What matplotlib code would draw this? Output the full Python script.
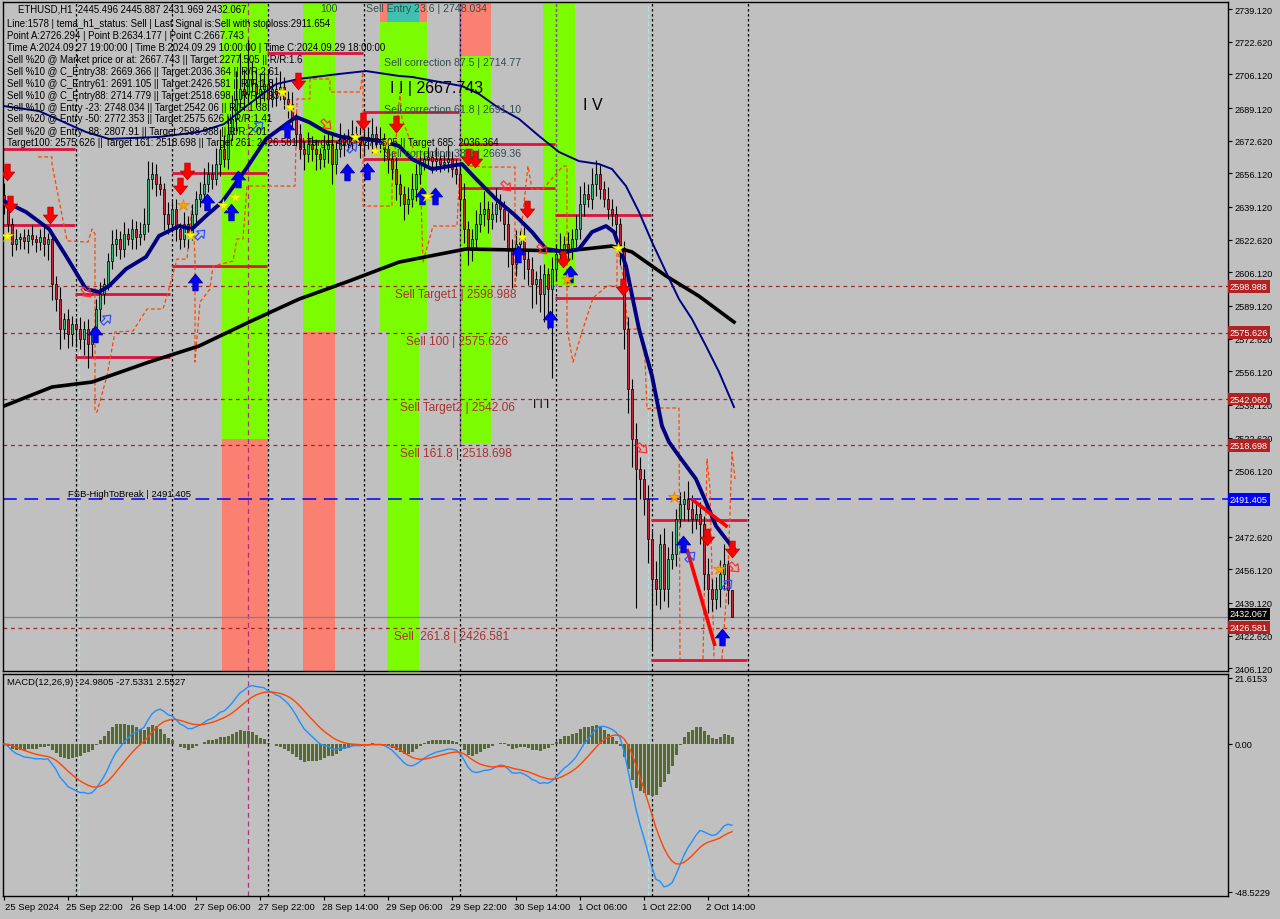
import numpy as np
import matplotlib
matplotlib.use("Agg")
import matplotlib.pyplot as plt
import matplotlib.transforms as mtransforms
from matplotlib.path import Path
from matplotlib.patches import Rectangle

plt.rcParams['font.family'] = ['Liberation Sans', 'DejaVu Sans']

# ---------------- data ----------------
first_open = 2645.0
closes = [
    2640.5, 2630.4, 2620.3, 2622.8, 2623.8, 2621.8, 2624.8, 2622.8, 2621.3, 2623.8, 2620.3, 2622.8,
    2600.1, 2592.6, 2577.4, 2582.5, 2575.0, 2580.0, 2577.4, 2572.4, 2577.4, 2569.9, 2575.0,
    2587.5, 2595.1, 2600.1, 2611.8, 2620.3, 2622.8, 2617.8, 2625.4, 2622.8, 2627.9, 2623.8, 2625.4, 2630.4,
    2653.2, 2655.7, 2650.7, 2648.2, 2635.5, 2630.4, 2638.0,
    2628.0, 2622.8, 2630.4, 2625.4, 2635.5, 2643.1, 2645.6, 2650.7,
    2655.7, 2653.2, 2660.8, 2668.4, 2663.3, 2676.0, 2683.5, 2693.6, 2698.7, 2696.2, 2703.7, 2701.2, 2696.2, 2698.7, 2701.2,
    2693.6, 2698.7, 2696.2, 2699.7, 2693.6, 2691.1, 2683.5, 2675.9, 2668.4, 2665.9, 2670.9,
    2668.4, 2665.9, 2663.3, 2668.4, 2670.9, 2660.8, 2668.4, 2673.4, 2670.9, 2673.4, 2676.0, 2673.4, 2670.9, 2674.4,
    2672.4, 2676.0, 2670.9, 2673.4, 2668.4, 2663.3, 2658.3, 2650.7,
    2645.6, 2640.5, 2643.1, 2648.2, 2655.7, 2660.8, 2663.3, 2664.3, 2662.3, 2663.3, 2660.8, 2661.8, 2663.3, 2658.3,
    2655.7, 2643.1, 2628.0, 2617.8, 2622.8, 2630.4, 2635.5, 2638.0, 2633.0, 2635.5, 2640.5, 2638.0, 2630.4, 2617.8,
    2610.3, 2620.3, 2622.8, 2612.8,
    2607.7, 2600.1, 2602.6, 2595.1, 2605.2, 2597.6, 2607.7, 2615.3, 2617.8, 2620.3, 2617.8, 2622.8, 2628.0, 2640.5,
    2645.6, 2643.1, 2650.7, 2655.7, 2648.2, 2643.1, 2638.0, 2635.5, 2630.4,
    2617.8, 2577.4, 2547.1, 2521.8, 2506.7, 2501.6, 2491.5, 2471.3, 2451.1, 2446.0, 2468.8, 2446.0, 2461.2, 2463.7,
    2481.4, 2489.0, 2491.5, 2486.5, 2481.4, 2484.0, 2478.9, 2453.6, 2446.0, 2441.0, 2446.0, 2453.6, 2458.7, 2445.5,
    2432.07,
]
wick_up = [
    6, 4, 3, 5, 2, 4, 3, 5, 2, 4, 6, 3,
    2, 4, 6, 3, 5, 4, 3, 6, 4, 5, 3,
    5, 6, 3, 4, 7, 5, 4, 6, 3, 5, 4, 6, 8,
    9, 6, 5, 4, 3, 6, 4,
    5, 3, 6, 4, 5, 4, 6, 8,
    6, 5, 8, 10, 7, 9, 12, 14, 18, 10, 20, 9, 7, 8, 6,
    7, 5, 6, 8, 5, 4, 6, 3, 5, 4, 6,
    4, 5, 3, 7, 5, 6, 4, 8, 3, 5, 7, 4, 6, 3, 5, 8, 4, 6, 3, 5, 4, 6,
    5, 4, 6, 8, 5, 7, 4, 5, 3, 6, 4, 5, 7, 4,
    5, 6, 8, 4, 5, 7, 6, 9, 4, 6, 8, 5, 4, 6, 5, 7, 4, 6,
    5, 6, 4, 7, 5, 3, 6, 5, 8, 4, 6, 5, 7, 9, 6, 5, 8, 7, 5, 4, 6, 5, 4,
    3, 4, 6, 5, 8, 6, 5, 7, 4, 9, 5, 8, 6, 12, 5, 6, 4, 9, 7, 5, 6, 4, 8, 5, 6, 7, 10, 2, 0.4,
]
wick_dn = [
    5, 4, 6, 3, 5, 4, 6, 3, 5, 4, 6, 8,
    8, 6, 10, 5, 7, 6, 9, 5, 8, 12, 6,
    4, 6, 5, 3, 4, 6, 5, 4, 3, 5, 6, 4, 3,
    4, 5, 6, 3, 8, 5, 4,
    6, 5, 4, 7, 3, 5, 4, 3,
    4, 5, 3, 6, 4, 5, 3, 6, 4, 8, 5, 4, 7, 5, 6,
    5, 4, 6, 3, 5, 7, 4, 6, 5, 8, 4,
    6, 8, 5, 4, 7, 10, 5, 4, 6, 3, 5, 4, 7, 5, 4, 6, 5, 4, 6, 7, 5, 8,
    6, 8, 5, 4, 6, 5, 3, 4, 6, 5, 4, 3, 5, 4,
    5, 6, 7, 8, 6, 5, 4, 6, 7, 5, 4, 6, 8, 9, 12, 6, 7, 10,
    8, 12, 10, 9, 14, 20, 45, 6, 5, 7, 6, 5, 4, 5, 6, 4, 5, 6, 5, 4, 5, 6, 7,
    8, 10, 12, 14, 70, 10, 8, 12, 35, 8, 10, 6, 9, 5, 6, 4, 8, 6, 7, 5, 10, 8, 12, 6, 5, 9, 8, 7, 0.1,
]

time_labels = ["25 Sep 2024", "25 Sep 22:00", "26 Sep 14:00", "27 Sep 06:00", "27 Sep 22:00",
               "28 Sep 14:00", "29 Sep 06:00", "29 Sep 22:00", "30 Sep 14:00", "1 Oct 06:00",
               "1 Oct 22:00", "2 Oct 14:00"]
time_label_bars = [0, 16, 32, 48, 64, 80, 96, 112, 128, 144, 160, 176]
day_sep_bars = [18, 42, 66, 90, 114, 138, 162, 186]

price_ticks = [2739.12, 2722.62, 2706.12, 2689.12, 2672.62, 2656.12, 2639.12, 2622.62, 2606.12,
               2589.12, 2572.62, 2556.12, 2539.12, 2522.62, 2506.12, 2489.12, 2472.62, 2456.12,
               2439.12, 2422.62, 2406.12]
hidden_ticks = [2489.12]  # fully covered by the 2491.405 price box
macd_ticks = [21.6153, 0.0, -48.5229]
macd_tick_labels = ["21.6153", "0.00", "-48.5229"]

# moving averages (bar index, price)
fast_ma_bars = [0, 5.5, 11.25, 15.5, 20.5, 23.75, 26.25, 30.5, 35.5, 38.75, 43.75, 47, 50.5, 54.5, 60.5, 65.5,
                73, 76.25, 80.5, 84.5, 90.5, 95.5, 98.75, 102, 107, 114.5, 118, 123, 128, 132, 135.5, 140.5,
                143.75, 147, 150.5, 152.5, 155.5, 158.75, 162, 164.5, 166.25, 168.75, 173, 175.5, 178,
                180.5, 182.5]
fast_ma_vals = [2642.1, 2636.6, 2628.0, 2614.4, 2597.7, 2596.2, 2599.2, 2607.8, 2613.9, 2624.5, 2629.5,
                2628.0, 2634.6, 2641.6, 2658.3, 2673.5, 2684.6, 2682.0, 2677.0, 2674.5, 2673.5, 2671.9,
                2669.9, 2663.3, 2658.3, 2660.8, 2653.3, 2643.1, 2634.5, 2626.5, 2617.9, 2616.4, 2617.9,
                2626.5, 2629.5, 2626.5, 2609.3, 2577.5, 2553.8, 2528.5, 2520.4, 2513.3, 2501.7, 2490.1,
                2478.0, 2471.4, 2466.4]
slow_ma_bars = [0, 8.75, 20.5, 26.25, 38.75, 48.75, 55, 61.25, 68, 73.75, 83.75, 90.5, 98.75, 102, 114.5,
                118.75, 123, 128.75, 133.75, 138.75, 143.75, 148.75, 152, 155.5, 158.75, 162, 165.5,
                168.75, 172, 175.5, 178.75, 182.5]
slow_ma_vals = [2690.1, 2687.6, 2677.0, 2673.5, 2674.5, 2677.0, 2681.0, 2691.1, 2701.2, 2703.8, 2706.3,
                2707.8, 2705.3, 2704.8, 2700.2, 2696.2, 2690.1, 2683.6, 2675.0, 2666.9, 2662.3, 2660.8,
                2658.3, 2649.7, 2636.6, 2621.4, 2606.3, 2592.6, 2582.5, 2568.9, 2555.8, 2538.1]
long_ma_bars = [0, 12, 22, 36.25, 48.75, 61.25, 73.75, 86.25, 98.75, 115.5, 140.5, 152, 157, 165.5,
                173.75, 182.5]
long_ma_vals = [2538.6, 2548.2, 2550.7, 2560.8, 2568.9, 2581.0, 2592.6, 2601.7, 2611.3, 2617.9, 2616.9,
                2619.4, 2616.4, 2604.3, 2594.1, 2581.0]

# signal-line dashed path (bar, price); None separates pieces
stop_path_bars = [-0.25, -0.25, None,
                  8.5, 12, 12, 15.75, 21, 22, 22.75, 22.75, 23.25, 25.75, 27.75, 32.25, 35.75, 39.75,
                  40.75, 43.25, 45.75, 47, 47.75, 47.75, 49, 51.5, 52.25, 57.25, 58.25, 59.75, 60.75,
                  72.75, 73.25, 76.5, 76.5, 81.5, 81.5, 89, 89.75, 89.75, 97, 97, 99, 99.5, 104,
                  104.75, 107.25, 113.25, 114, 118.25, 119.5, 127.75, 127.75, 131, 132, 134.75, 139.75,
                  140.75, 140.75, 142.25, 144.5, 147.25, 150.75, 153.25, 153.25, 154.75, 156, 159, 160.25,
                  160.75, 162, 168.75, 169, None,
                  174.75, 175.75, 176.5, 177.5, None,
                  179.5, 181, 182, 182.75]
stop_path_vals = [2668.4, 2605.3, None,
                  2664.4, 2664.4, 2660.8, 2622.0, 2621.4, 2628.0, 2625.5, 2535.6, 2535.6, 2553.8, 2576.0,
                  2576.5, 2587.6, 2587.6, 2594.2, 2612.8, 2612.8, 2639.6, 2614.4, 2560.8, 2591.1, 2597.7,
                  2609.3, 2611.8, 2623.0, 2623.0, 2649.7, 2649.7, 2693.7, 2693.7, 2703.8, 2703.8, 2697.2,
                  2697.2, 2707.3, 2639.6, 2639.6, 2649.7, 2697.2, 2683.6, 2659.8, 2611.3, 2629.5, 2629.5,
                  2659.8, 2659.8, 2659.3, 2659.3, 2599.2, 2659.8, 2648.2, 2648.2, 2659.8, 2659.8, 2577.5,
                  2560.8, 2576.0, 2593.2, 2599.2, 2599.2, 2619.4, 2604.3, 2577.5, 2577.5, 2562.4, 2537.1,
                  2537.6, 2537.6, 2410.8, None,
                  2410.8, 2511.8, 2496.7, 2410.8, None,
                  2410.8, 2454.8, 2515.4, 2501.7]

# background zones: (bar start, bar end, price low, price high, colour key)
zones = [
    (54.5, 66.0, 2521.9, 2760.0, "green"),
    (54.5, 66.0, 2390.0, 2521.9, "salmon"),
    (74.75, 82.75, 2576.0, 2760.0, "green"),
    (74.75, 82.75, 2390.0, 2576.0, "salmon"),
    (94.0, 95.75, 2576.0, 2732.6, "green"),
    (95.75, 103.75, 2390.0, 2732.6, "green"),
    (103.75, 105.75, 2576.0, 2732.6, "green"),
    (94.0, 95.75, 2732.6, 2760.0, "salmon"),
    (95.75, 103.75, 2732.6, 2760.0, "teal"),
    (103.75, 105.75, 2732.6, 2760.0, "salmon"),
    (113.75, 121.75, 2715.4, 2760.0, "salmon"),
    (113.75, 121.75, 2519.4, 2715.4, "green"),
    (134.75, 142.75, 2599.2, 2760.0, "green"),
]
# daily high/low segments (bar start, bar end, price)
day_segments = [
    (-0.25, 17.75, 2668.4), (-0.25, 17.75, 2630.0),
    (17.75, 41.5, 2595.2), (17.75, 41.5, 2563.4),
    (42.0, 65.75, 2656.3), (42.0, 65.75, 2609.3),
    (65.75, 89.75, 2716.9), (65.75, 89.75, 2672.4),
    (89.75, 113.75, 2687.1), (89.75, 113.75, 2663.4),
    (113.75, 137.75, 2670.9), (113.75, 137.75, 2648.7),
    (137.75, 161.75, 2635.1), (137.75, 161.75, 2593.2),
    (161.75, 185.75, 2481.0), (161.75, 185.75, 2410.3),
]
trend_lines = [((171.9, 180.9), (2491.6, 2477.5)), ((170.75, 177.75), (2466.4, 2417.4))]

level_prices = [2598.988, 2575.626, 2542.06, 2518.698, 2426.581]
level_texts = ["Sell Target1 | 2598.988", "Sell 100 | 2575.626", "Sell Target2 | 2542.06",
               "Sell 161.8 | 2518.698", "Sell  261.8 | 2426.581"]
level_text_bars = [97.75, 100.5, 99, 99, 97.5]
fsb_price = 2491.405
last_price = 2432.067

sell_arrow_bars = [0.75, 1.5, 11.5, 44, 45.75, 73.5, 89.75, 98, 116, 117.75, 130.75, 139.75, 154.75, 175.75, 182]
sell_arrow_vals = [2656.8, 2640.6, 2635.1, 2649.7, 2657.3, 2702.8, 2682.6, 2681.0, 2664.4, 2663.4, 2638.1,
                   2612.8, 2598.7, 2472.4, 2466.4]
buy_arrow_bars = [22.75, 47.75, 50.75, 56.75, 58.5, 70.75, 85.75, 90.75, 104.5, 107.75, 128.5, 136.5, 141.5,
                  169.75, 179.5]
buy_arrow_vals = [2575.0, 2601.2, 2641.6, 2636.6, 2653.3, 2678.5, 2656.8, 2657.3, 2644.7, 2644.7, 2615.4,
                  2582.5, 2605.3, 2468.9, 2422.0]
ystar_bars = [0.75, 46.5, 54.75, 57.75, 69.5, 71.5, 87.75, 92.75, 95.75, 105.75, 129.5, 153.5]
ystar_vals = [2624.5, 2625.0, 2640.1, 2644.2, 2697.2, 2689.6, 2674.5, 2667.4, 2671.9, 2644.7, 2623.9, 2618.4]
ostar_bars = [44.75, 140.75, 167.5, 178.75]
ostar_vals = [2640.1, 2602.8, 2492.6, 2456.3]
hollow_up_bars = [25.5, 49, 63.5, 87, 171.5, 180.75]
hollow_up_vals = [2582.5, 2625.5, 2680.0, 2669.4, 2462.9, 2448.7]
hollow_dn_bars = [20.5, 80.5, 125.5, 134.5, 159.5, 182.5]
hollow_dn_vals = [2596.2, 2681.0, 2649.7, 2617.9, 2517.4, 2457.3]

header_lines = [
    "ETHUSD,H1  2445.496 2445.887 2431.969 2432.067",
    "Line:1578 | tema_h1_status: Sell | Last Signal is:Sell with stoploss:2911.654",
    "Point A:2726.294 | Point B:2634.177 | Point C:2667.743",
    "Time A:2024.09.27 19:00:00 | Time B:2024.09.29 10:00:00 | Time C:2024.09.29 18:00:00",
    "Sell %20 @ Market price or at: 2667.743 || Target:2277.505 || R/R:1.6",
    "Sell %10 @ C_Entry38: 2669.366 || Target:2036.364 || R/R:2.61",
    "Sell %10 @ C_Entry61: 2691.105 || Target:2426.581 || R/R:1.8",
    "Sell %10 @ C_Entry88: 2714.779 || Target:2518.698 || R/R:1.93",
    "Sell %10 @ Entry -23: 2748.034 || Target:2542.06 || R/R:1.38",
    "Sell %20 @ Entry -50: 2772.353 || Target:2575.626 || R/R:1.41",
    "Sell %20 @ Entry -88: 2807.91 || Target:2598.988 || R/R:2.01",
    "Target100: 2575.626 || Target 161: 2518.698 || Target 261: 2426.581 || Target 423: 2277.505 || Target 685: 2036.364",
]
macd_label = "MACD(12,26,9) -24.9805 -27.5331 2.5527"

# ---------------- drawing ----------------
W, H = 1280, 920
BG = "#c0c0c0"
COL = {"green": "#7cfc00", "salmon": "#fa8072", "teal": "#40c0b0"}

fig = plt.figure(figsize=(W / 100, H / 100), dpi=100, facecolor=BG)
ax = fig.add_axes([3 / W, 1 - 672 / H, 1225 / W, 669 / H], facecolor=BG)
ax2 = fig.add_axes([3 / W, 1 - 897 / H, 1225 / W, 222 / H], facecolor=BG)

XMIN, XMAX = -0.25, 306.0
ax.set_xlim(XMIN, XMAX)
ax.set_ylim(2404.76, 2742.66)
ax2.set_xlim(XMIN, XMAX)
ax2.set_ylim(-49.9, 22.9)

for a in (ax, ax2):
    for s in a.spines.values():
        s.set_color("black")
        s.set_linewidth(1.0)

# zones
for x0, x1, p0, p1, key in zones:
    ax.add_patch(Rectangle((x0, p0), x1 - x0, p1 - p0, facecolor=COL[key], edgecolor="none", zorder=0.5))

# day separators
for b in day_sep_bars:
    for a in (ax, ax2):
        a.axvline(b, color="black", lw=0.9, ls=(0, (2, 2)), zorder=0.8)
ax.plot([114, 114], [2519.4, 2760], color="#a050c0", lw=0.9, ls=(0, (2, 2)), zorder=0.9)
ax.plot([138, 138], [2599.2, 2760], color="#a050c0", lw=0.9, ls=(0, (2, 2)), zorder=0.9)
for a in (ax, ax2):
    a.axvline(61, color="#b03080", lw=0.9, ls=(0, (4, 3)), zorder=0.9)
    a.axvline(18.75, color="#b0e0e6", lw=0.9, ls=(0, (4, 2)), zorder=0.8)
    a.axvline(161, color="#b0e0e6", lw=0.9, ls=(0, (4, 2)), zorder=0.8)

# horizontal levels
for p in level_prices:
    ax.axhline(p, color="#9a2a2a", lw=0.9, ls=(0, (3, 3)), zorder=1)
ax.axhline(fsb_price, color="#0000ff", lw=1.1, ls=(0, (9, 5)), zorder=1)
ax.axhline(last_price, color="#7a8494", lw=0.9, zorder=1)

# daily segments
for x0, x1, p in day_segments:
    ax.plot([x0, x1], [p, p], color="#dc143c", lw=2.0, zorder=2, solid_capstyle="butt")

# stop path
sx = [np.nan if v is None else v for v in stop_path_bars]
sy = [np.nan if v is None else v for v in stop_path_vals]
ax.plot(sx, sy, color="#ff4500", lw=0.9, ls=(0, (3, 2)), zorder=2)

# candles
c = np.array(closes, dtype=float)
o = np.concatenate([[first_open], c[:-1]])
hi = np.maximum(o, c) + np.array(wick_up, dtype=float)
lo = np.minimum(o, c) - np.array(wick_dn, dtype=float)
xs = np.arange(len(c))
ax.vlines(xs, lo, hi, color="black", lw=0.8, zorder=3)
body_bottom = np.minimum(o, c)
body_h = np.maximum(np.abs(c - o), 0.4)
colors = np.where(c >= o, "#3cb371", "#c0283a")
ax.bar(xs, body_h, bottom=body_bottom, width=0.72, color=colors, edgecolor="black", linewidth=0.5, zorder=3.2)

# moving averages
ax.plot(long_ma_bars, long_ma_vals, color="black", lw=2.6, zorder=4)
ax.plot(slow_ma_bars, slow_ma_vals, color="#000080", lw=1.4, zorder=4)
ax.plot(fast_ma_bars, fast_ma_vals, color="#000080", lw=2.8, zorder=4.1)

# trend lines
for (bx, py) in trend_lines:
    ax.plot(bx, py, color="#ff0000", lw=2.6, zorder=4.2, solid_capstyle="butt")

# markers
arr_dn = Path([(-0.32, 1.0), (0.32, 1.0), (0.32, 0.05), (0.85, 0.05), (0.0, -1.0), (-0.85, 0.05),
               (-0.32, 0.05), (-0.32, 1.0)], closed=True)
arr_up = Path([(x, -y) for x, y in arr_dn.vertices], closed=True)
rot_dn = mtransforms.Affine2D().rotate_deg(45).transform_path(arr_dn)
rot_up = mtransforms.Affine2D().rotate_deg(-45).transform_path(arr_up)
ax.plot(sell_arrow_bars, sell_arrow_vals, ls="none", marker=arr_dn, ms=12, mfc="#ff0000", mec="#c00000",
        mew=0.6, zorder=5)
ax.plot(buy_arrow_bars, buy_arrow_vals, ls="none", marker=arr_up, ms=12, mfc="#0000ff", mec="#0000a0",
        mew=0.6, zorder=5)
ax.plot(ystar_bars, ystar_vals, ls="none", marker="*", ms=9, mfc="#ffff00", mec="#d0d000", mew=0.5, zorder=5)
ax.plot(ostar_bars, ostar_vals, ls="none", marker="*", ms=9, mfc="#ffa500", mec="#e08000", mew=0.5, zorder=5)
ax.plot(hollow_up_bars, hollow_up_vals, ls="none", marker=rot_up, ms=8, mfc="none", mec="#3050ff", mew=0.9,
        zorder=5)
ax.plot(hollow_dn_bars, hollow_dn_vals, ls="none", marker=rot_dn, ms=8, mfc="none", mec="#ff3030", mew=0.9,
        zorder=5)

# texts in chart
LVL_COL = "#a83232"
for b, p, t in zip(level_text_bars, level_prices, level_texts):
    ax.text(b, p - 1.0, t, color=LVL_COL, fontsize=8.6, ha="left", va="top", zorder=6, clip_on=True)
ax.text(16, fsb_price + 3.0, "FSB-HighToBreak | 2491.405", color="black", fontsize=6.8, ha="left",
        va="center", zorder=6)
COR = "#2f4f4f"
ax.text(95, 2712.4, "Sell correction 87.5 | 2714.77", color=COR, fontsize=7.6, va="center", zorder=6)
ax.text(95, 2688.6, "Sell correction 61.8 | 2691.10", color=COR, fontsize=7.6, va="center", zorder=6)
ax.text(95, 2666.4, "Sell correction 38.2 | 2669.36", color=COR, fontsize=7.6, va="center", zorder=6)
ax.text(96.5, 2699.7, "I I | 2667.743", color="black", fontsize=11.5, va="center", zorder=6)
ax.text(144.75, 2691.1, "I V", color="black", fontsize=11.5, va="center", zorder=6)
ax.text(132.25, 2539.6, "I I I", color="black", fontsize=8.5, va="center", zorder=6)
ax.text(79, 2742.0, "100", color=COR, fontsize=7.6, va="top", zorder=6, clip_on=True)
ax.text(90.5, 2742.0, "Sell Entry 23.6 | 2748.034", color=COR, fontsize=7.6, va="top", zorder=6,
        clip_on=True)

# header
for k, line in enumerate(header_lines):
    ypx = [10, 24, 36, 48, 60, 72, 84, 96, 108, 119, 132, 143][k]
    xpx = 18 if k == 0 else 7
    fig.text(xpx / W, 1 - ypx / H, line, fontsize=6.9, color="black", ha="left", va="center", zorder=10)

# right price axis
ax.yaxis.tick_right()
ax.set_yticks(price_ticks)
ax.set_yticklabels(["" if v in hidden_ticks else f"{v:.3f}" for v in price_ticks])
ax.tick_params(axis="y", direction="out", length=3, width=0.8, pad=2, labelsize=6.6, colors="black")
ax.set_xticks([])
blend = mtransforms.blended_transform_factory(ax.transAxes, ax.transData)
for p in level_prices:
    ax.text(1.0016, p, f"{p:.3f}", transform=blend, fontsize=6.6, color="white", ha="left", va="center",
            clip_on=False, zorder=8,
            bbox=dict(boxstyle="square,pad=0.2", facecolor="#b22222", edgecolor="none"))
ax.text(1.0016, fsb_price, f"{fsb_price:.3f}", transform=blend, fontsize=6.6, color="white", ha="left",
        va="center", clip_on=False, zorder=8,
        bbox=dict(boxstyle="square,pad=0.2", facecolor="#0000ff", edgecolor="none"))
ax.text(1.0016, last_price + 1.5, f"{last_price:.3f}", transform=blend, fontsize=6.6, color="white",
        ha="left", va="center", clip_on=False, zorder=8.5,
        bbox=dict(boxstyle="square,pad=0.2", facecolor="black", edgecolor="none"))

# MACD panel
def ema(x, n):
    a = 2.0 / (n + 1)
    out = np.empty_like(x)
    out[0] = x[0]
    for k in range(1, len(x)):
        out[k] = a * x[k] + (1 - a) * out[k - 1]
    return out

macd_main = ema(c, 12) - ema(c, 26)
macd_sig = ema(macd_main, 9)
macd_hist = macd_main - macd_sig
ax2.bar(xs, macd_hist, width=0.75, color="#556b2f", zorder=2)
ax2.plot(xs, macd_main, color="#1e90ff", lw=1.0, zorder=3)
ax2.plot(xs, macd_sig, color="#ff4500", lw=1.0, zorder=3)
ax2.yaxis.tick_right()
ax2.set_yticks(macd_ticks)
ax2.set_yticklabels(macd_tick_labels)
ax2.tick_params(axis="y", direction="out", length=3, width=0.8, pad=2, labelsize=6.6, colors="black")
ax2.set_xticks(time_label_bars)
ax2.set_xticklabels([])
ax2.tick_params(axis="x", direction="out", length=3, width=0.8)
fig.text(7 / W, 1 - 683 / H, macd_label, fontsize=6.8, color="black", ha="left", va="center", zorder=10)

tb = mtransforms.blended_transform_factory(ax2.transData, fig.transFigure)
for b, t in zip(time_label_bars, time_labels):
    xb = b + 0.25 if b == 0 else b - 0.5
    ax2.text(xb, 1 - 908 / H, t, transform=tb, fontsize=6.8, color="black", ha="left", va="center",
             clip_on=False)

fig.savefig("out.png", dpi=100, facecolor=BG)
